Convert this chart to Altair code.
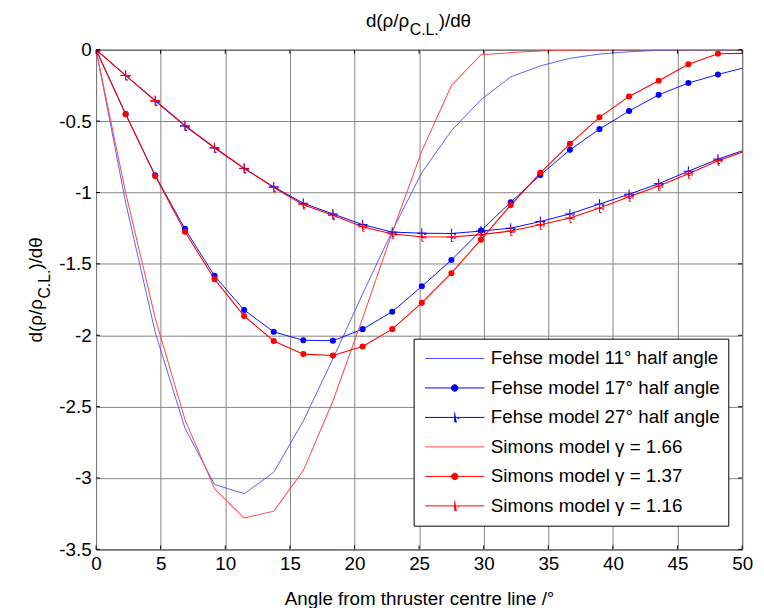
import altair as alt
import pandas as pd

FONT = "Liberation Sans"

# ---- data ----
ANGLES = [0.00, 2.29, 4.58, 6.88, 9.17, 11.46, 13.75, 16.04, 18.33, 20.63, 22.92,
          25.21, 27.50, 29.79, 32.09, 34.38, 36.67, 38.96, 41.25, 43.54, 45.84, 48.13, 50.42]

FEHSE_11 = [0, -1.07, -1.98, -2.65, -3.045, -3.11, -2.96, -2.60, -2.165, -1.71, -1.27,
            -0.86, -0.567, -0.35, -0.19, -0.113, -0.06, -0.03, -0.014, -0.004, 0, 0, 0]
FEHSE_17 = [0, -0.45, -0.88, -1.255, -1.584, -1.823, -1.976, -2.035, -2.038, -1.957, -1.835,
            -1.657, -1.473, -1.266, -1.068, -0.878, -0.701, -0.556, -0.429, -0.316, -0.233, -0.173, -0.12]
FEHSE_27 = [0, -0.18, -0.36, -0.535, -0.689, -0.832, -0.96, -1.075, -1.15, -1.225, -1.277,
            -1.285, -1.287, -1.27, -1.25, -1.203, -1.15, -1.081, -1.012, -0.938, -0.851, -0.766, -0.695]
SIMONS_166 = [0, -1.0, -1.88, -2.591, -3.075, -3.28, -3.232, -2.948, -2.46, -1.88, -1.28,
              -0.71, -0.25, -0.035, -0.02, -0.009, -0.004, -0.001, 0, 0, 0, 0, 0]
SIMONS_137 = [0, -0.452, -0.885, -1.275, -1.607, -1.865, -2.040, -2.132, -2.142, -2.079, -1.957,
              -1.773, -1.565, -1.330, -1.088, -0.862, -0.659, -0.473, -0.327, -0.217, -0.101, -0.028, -0.025]
SIMONS_116 = [0, -0.18, -0.355, -0.53, -0.685, -0.83, -0.965, -1.085, -1.16, -1.24, -1.29,
              -1.31, -1.312, -1.295, -1.27, -1.226, -1.178, -1.109, -1.03, -0.954, -0.869, -0.777, -0.704]

SERIES = ["Fehse model 11° half angle", "Fehse model 17° half angle", "Fehse model 27° half angle",
          "Simons model γ = 1.66", "Simons model γ = 1.37", "Simons model γ = 1.16"]
KEYS = ["f11", "f17", "f27", "s166", "s137", "s116"]
VALUES = [FEHSE_11, FEHSE_17, FEHSE_27, SIMONS_166, SIMONS_137, SIMONS_116]
DOT_KEYS = ["f17", "s137"]
PLUS_KEYS = ["f27", "s116"]

X_TICKS = [0, 5, 10, 15, 20, 25, 30, 35, 40, 45, 50]
Y_TICKS = [0, -0.5, -1, -1.5, -2, -2.5, -3, -3.5]
X_TITLE = "Angle from thruster centre line /°"
TITLE_PARTS = ["d(ρ/ρ", "C.L.", ")/dθ"]

# ---- styles ----
LINE_COLORS = ["#4b4bff", "#0000ff", "#0000ff", "#ff4b4b", "#ff0000", "#ff0000"]
LINE_WIDTHS = [0.9, 1.1, 1.1, 0.9, 1.1, 1.1]
PLUS_PATH = "M-1,0H1M0,-1V0.9H0.4M0.5,0.25H0.9"
LEG_LINE = "M-1,0H1"
LEG_DOT = "M-1,0H1M-0.11,0A0.11,0.11,0,1,0,0.11,0A0.11,0.11,0,1,0,-0.11,0Z"
LEG_PLUS = "M-1,0H1M0,-0.17V0.15H0.07M0.09,0.04H0.15"
LEG_SHAPES = [LEG_LINE, LEG_DOT, LEG_PLUS, LEG_LINE, LEG_DOT, LEG_PLUS]

W, H = 653, 505

rows = []
for name, key, vals in zip(SERIES, KEYS, VALUES):
    for a, v in zip(ANGLES, vals):
        rows.append({"series": name, "key": key, "angle": a, "value": v})
df = pd.DataFrame(rows)

x_enc = alt.X("angle:Q", scale=alt.Scale(domain=[0, 50], nice=False, zero=False),
              axis=alt.Axis(values=X_TICKS, title=X_TITLE, labelPadding=5, titlePadding=17,
                            labelFlush=False, labelOverlap=False))
y_enc = alt.Y("value:Q", scale=alt.Scale(domain=[-3.5, 0], nice=False, zero=False),
              axis=alt.Axis(values=Y_TICKS, title=None, labelPadding=5, labelFlush=False,
                            labelOverlap=False,
                            labelExpr="datum.value < 0 ? '-' + format(-datum.value, '') : '0'"))
color_enc = alt.Color("key:N", scale=alt.Scale(domain=KEYS, range=LINE_COLORS), legend=None)

lines = alt.Chart(df).mark_line(clip=True).encode(
    x=x_enc, y=y_enc, color=color_enc,
    strokeWidth=alt.StrokeWidth("key:N", scale=alt.Scale(domain=KEYS, range=LINE_WIDTHS), legend=None),
)

dots = alt.Chart(df).transform_filter(
    alt.FieldOneOfPredicate(field="key", oneOf=DOT_KEYS)
).mark_point(shape="circle", filled=True, size=38, opacity=1, clip=True).encode(
    x=x_enc, y=y_enc, color=color_enc)

pluses = alt.Chart(df).transform_filter(
    alt.FieldOneOfPredicate(field="key", oneOf=PLUS_KEYS)
).mark_point(shape=PLUS_PATH, filled=False, size=100, strokeWidth=1, opacity=1, clip=True).encode(
    x=x_enc, y=y_enc, color=color_enc)

legend = alt.Legend(
    orient="none", legendX=321, legendY=292, title=None,
    symbolSize=3600, symbolStrokeWidth=1, symbolFillColor="transparent", symbolOpacity=1,
    clipHeight=24, rowPadding=5.8, padding=8, symbolOffset=3,
    labelFont=FONT, labelFontSize=19, labelColor="black", labelLimit=400, labelOffset=6,
    fillColor="white", strokeColor="black",
)
# zero-size points that only carry the legend
legend_layer = alt.Chart(df).transform_filter(
    alt.datum.angle == 0
).mark_point(size=0).encode(
    x=x_enc, y=y_enc,
    fill=alt.Fill("series:N", scale=alt.Scale(domain=SERIES, range=LINE_COLORS), legend=legend),
    stroke=alt.Stroke("series:N", scale=alt.Scale(domain=SERIES, range=LINE_COLORS), legend=legend),
    shape=alt.Shape("series:N", scale=alt.Scale(domain=SERIES, range=LEG_SHAPES), legend=legend),
)

xt = pd.DataFrame({"angle": X_TICKS})
yt = pd.DataFrame({"value": Y_TICKS})
TL = 4
tick_b = alt.Chart(xt).mark_rule(color="black", strokeWidth=1).encode(
    x=x_enc, y=alt.value(H), y2=alt.value(H - TL))
tick_t = alt.Chart(xt).mark_rule(color="black", strokeWidth=1).encode(
    x=x_enc, y=alt.value(0), y2=alt.value(TL))
tick_l = alt.Chart(yt).mark_rule(color="black", strokeWidth=1).encode(
    y=y_enc, x=alt.value(0), x2=alt.value(TL))
tick_r = alt.Chart(yt).mark_rule(color="black", strokeWidth=1).encode(
    y=y_enc, x=alt.value(W), x2=alt.value(W - TL))


def text_layer(txt, x, y, size, align, angle=0):
    return alt.Chart(pd.DataFrame({"t": [txt]})).mark_text(
        align=align, baseline="alphabetic", font=FONT, fontSize=size, color="black", angle=angle
    ).encode(x=alt.value(x), y=alt.value(y), text="t:N")


SUB_W = 29.3
tA = 316.5
texts = [
    text_layer(TITLE_PARTS[0], tA, -23, 19, "right"),
    text_layer(TITLE_PARTS[1], tA + 0.5, -15, 16, "left"),
    text_layer(TITLE_PARTS[2], tA + 0.5 + SUB_W, -23, 19, "left"),
    text_layer(TITLE_PARTS[0], -55, 252, 19, "right", 270),
    text_layer(TITLE_PARTS[1], -47, 251.5, 16, "left", 270),
    text_layer(TITLE_PARTS[2], -55, 251.5 - SUB_W, 19, "left", 270),
]

chart = alt.layer(
    lines, dots, pluses, legend_layer, tick_b, tick_t, tick_l, tick_r, *texts
).properties(
    width=W, height=H,
    autosize=alt.AutoSizeParams(type="none"),
    padding={"left": 89, "top": 39, "right": 14, "bottom": 56},
    background="white",
).configure_view(
    stroke="black", strokeWidth=1
).configure_axis(
    grid=True, gridColor="#858585", gridOpacity=1, gridWidth=1,
    domain=False, ticks=False,
    labelFont=FONT, labelFontSize=19, labelColor="black",
    titleFont=FONT, titleFontSize=19, titleColor="black", titleFontWeight="normal",
)

chart.save("out.html", embed_options={"renderer": "svg", "actions": False})
